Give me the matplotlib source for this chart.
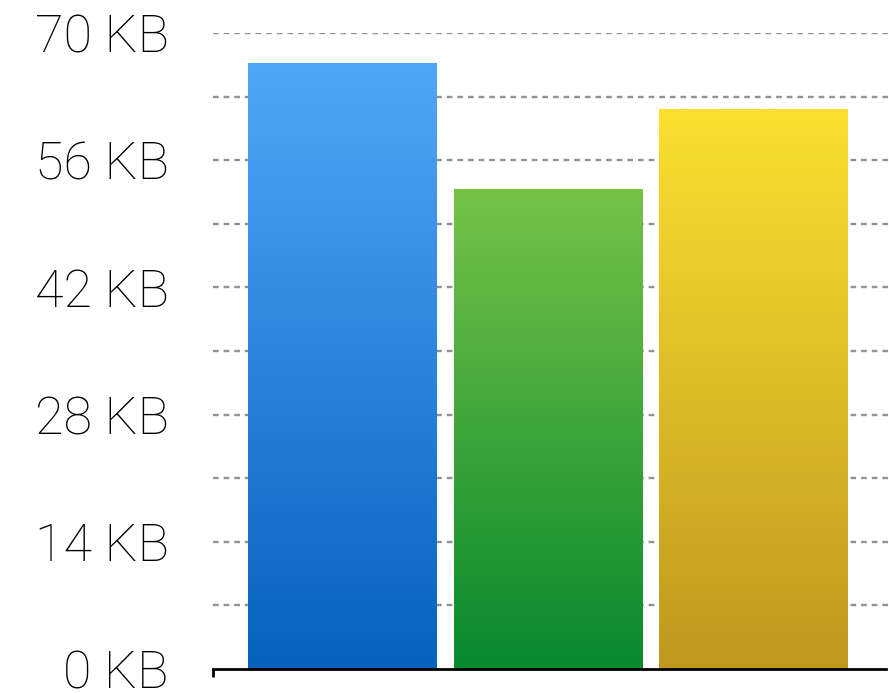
import numpy as np
import matplotlib.pyplot as plt
from matplotlib.colors import LinearSegmentedColormap

# sizes, in KB
categories = ['A', 'B', 'C']
sizes = [66.7, 52.8, 61.6]
top_colors = ['#50a7f9', '#76c247', '#fae030']
bottom_colors = ['#0562bf', '#078a2e', '#bf981e']
tick_values = [0, 14, 28, 42, 56, 70]
tick_labels = ['%d KB' % v for v in tick_values]

plt.rcParams['font.family'] = ['Roboto', 'DejaVu Sans']

fig = plt.figure(figsize=(8.89, 6.93), dpi=100)
ax = fig.add_axes([213 / 889, 24 / 693, 676 / 889, 636 / 693])

x = np.arange(len(categories))
width = 0.915
bars = ax.bar(x, sizes, width=width, color='none', zorder=2)

# vertical gradient inside each bar
grad = np.linspace(0, 1, 256).reshape(-1, 1)
for bar, c_top, c_bot in zip(bars, top_colors, bottom_colors):
    cmap = LinearSegmentedColormap.from_list('g', [c_bot, c_top])
    x0 = bar.get_x()
    h = bar.get_height()
    im = ax.imshow(grad, cmap=cmap, aspect='auto', origin='lower',
                   extent=[x0, x0 + bar.get_width(), 0, h], zorder=2)
    im.set_clip_path(bar)

ax.set_xlim(-0.628, 2.662)
ax.set_ylim(0, 70)

# dashed grid every 7 KB, labels every 14 KB
for v in np.arange(7, 71, 7):
    ax.axhline(v, color='#929292', lw=1.7, ls=(0, (2.4, 2.1)), zorder=1)

ax.set_yticks(tick_values)
ax.set_yticklabels(tick_labels, fontsize=37.5, fontweight='light', color='black')
ax.tick_params(axis='y', length=0, pad=32)

ax.set_xticks([-0.628])
ax.set_xticklabels([''])
ax.tick_params(axis='x', direction='out', length=6, width=2, color='black')

for s in ['left', 'right', 'top']:
    ax.spines[s].set_visible(False)
ax.spines['bottom'].set_linewidth(2)
ax.spines['bottom'].set_bounds(-0.628, 2.647)
ax.spines['bottom'].set_zorder(3)

fig.savefig('out.png', dpi=100)
